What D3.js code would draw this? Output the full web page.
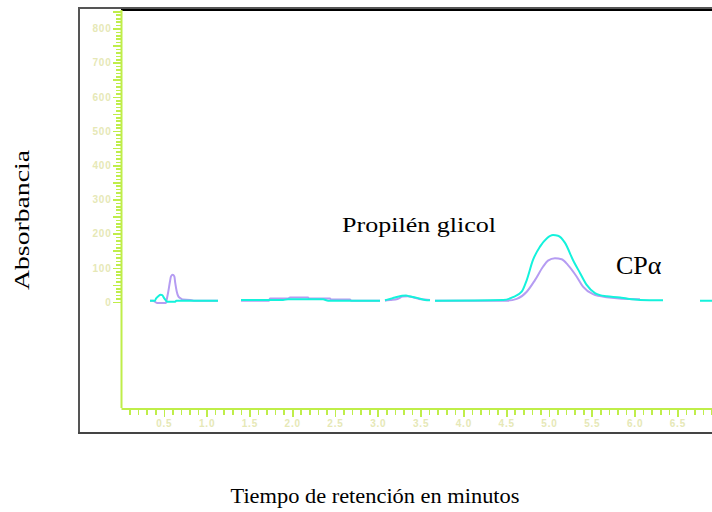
<!DOCTYPE html>
<html>
<head>
<meta charset="utf-8">
<script src="https://cdn.jsdelivr.net/npm/d3@7/dist/d3.min.js"></script>
<style>
  html, body { margin: 0; padding: 0; background: #fff; }
  svg { display: block; }
</style>
</head>
<body>
<svg id="chart" width="712" height="512"></svg>
<script>
// ---- data (time in minutes, absorbance); null value = gap in the trace ----
const cyanTime = [0.339,0.397,0.409,0.436,0.464,0.482,0.502,0.526,0.537,0.634,0.645,1.133,
  1.2,
  1.402,1.893,1.951,2.360,2.420,3.026,
  3.05,
  3.084,3.143,3.201,3.283,3.330,3.364,3.458,3.551,3.610,
  3.64,
  3.668,4.463,4.579,4.681,4.740,4.813,4.895,4.973,5.047,5.105,5.187,5.280,5.362,5.440,5.537,5.596,5.674,5.829,5.908,6.063,6.332,
  6.5,
  6.764,7.0];
const cyanValue = [4,4,10,17,21,20,12,4,1,1,4,4,
  null,
  6,6,8,8,4,4,
  null,
  5,9,13,18,19,17,12,6,5,
  null,
  4,6,14,30,64,123,162,186,196,194,173,123,85,50,26,20,17,13,10,6,5,
  null,
  4,4];

const lavTime = [0.339,0.374,0.421,0.526,0.534,0.553,0.572,0.584,0.604,0.623,0.634,0.651,0.669,0.689,0.721,0.806,0.85,1.133,
  1.2,
  1.402,1.729,1.740,1.951,1.974,2.185,2.195,2.442,2.452,2.675,2.690,3.026,
  3.05,
  3.084,3.143,3.230,3.290,3.350,3.420,3.480,3.551,3.610,
  3.64,
  3.668,4.506,4.623,4.740,4.836,4.930,4.988,5.070,5.148,5.222,5.324,5.397,5.514,5.674,6.025,6.063];
const lavValue = [4,4,-3,-3,7,31,60,75,80,75,55,31,17,12,7,6,4,4,
  null,
  4,4,10,10,13,13,10,10,7,7,4,4,
  null,
  4,6,9,16,17,13,9,7,6,
  null,
  4,4,9,30,64,103,121,128,125,108,74,45,23,14,8,8];

const yMajorTicks = [0,100,200,300,400,500,600,700,800];
const yMidTicks = d3.range(50, 900, 100);
const yMinorTicks = d3.range(0, 860, 10);
const xMajorTicks = [0.5,1.0,1.5,2.0,2.5,3.0,3.5,4.0,4.5,5.0,5.5,6.0,6.5];
const xMinorTicks = d3.range(1, 70).map(d => d / 10);

const title = "Propilén glicol";
const peakLabel = "CPα";
const xTitle = "Tiempo de retención en minutos";
const yTitle = "Absorbancia";

// ---- drawing ----
const svg = d3.select("#chart");
const AX = "#bfee4a";
const LBL = "#e6e8b6";

const x = d3.scaleLinear().domain([0, 7]).range([121, 121 + 7 * 85.6]);
const y = d3.scaleLinear().domain([-310, 854]).range([408, 10]);

// outer frame
const frame = svg.append("g");
frame.append("line").attr("x1", 79).attr("x2", 712).attr("y1", 8).attr("y2", 8)
  .attr("stroke", "#555").attr("stroke-width", 2);
frame.append("line").attr("x1", 121).attr("x2", 712).attr("y1", 10).attr("y2", 10)
  .attr("stroke", "#000").attr("stroke-width", 2);
frame.append("line").attr("x1", 79).attr("x2", 79).attr("y1", 7).attr("y2", 434)
  .attr("stroke", "#555").attr("stroke-width", 2);
frame.append("line").attr("x1", 78).attr("x2", 712).attr("y1", 433).attr("y2", 433)
  .attr("stroke", "#444").attr("stroke-width", 2);

// y axis: minor, then major
const gyMinor = svg.append("g").attr("transform", "translate(121.5,0)")
  .call(d3.axisLeft(y).tickValues(yMinorTicks).tickSize(6).tickSizeOuter(0).tickFormat(""));
const gyMid = svg.append("g").attr("transform", "translate(121.5,0)")
  .call(d3.axisLeft(y).tickValues(yMidTicks).tickSize(9).tickSizeOuter(0).tickFormat(""));
const gy = svg.append("g").attr("transform", "translate(121.5,0)")
  .call(d3.axisLeft(y).tickValues(yMajorTicks).tickSize(9).tickSizeOuter(0).tickPadding(1).tickFormat(d3.format("d")));

// x axis
const gxMinor = svg.append("g").attr("transform", "translate(0,408.5)")
  .call(d3.axisBottom(x).tickValues(xMinorTicks).tickSize(6).tickSizeOuter(0).tickFormat(""));
const gx = svg.append("g").attr("transform", "translate(0,408.5)")
  .call(d3.axisBottom(x).tickValues(xMajorTicks).tickSize(8).tickSizeOuter(0).tickPadding(3).tickFormat(d3.format(".1f")));

svg.selectAll(".domain").attr("stroke", AX).attr("stroke-width", 2);
svg.selectAll(".tick line").attr("stroke", AX).attr("stroke-width", 1.6).attr("shape-rendering", "crispEdges");
svg.selectAll(".tick text").attr("fill", LBL)
  .style("font-family", "'Liberation Sans', Arial, sans-serif")
  .style("font-size", "10px").style("font-weight", "bold").style("letter-spacing", "0.8px");
gy.select(".domain").attr("d", `M0,${y(854)}V${408}`);
[gyMinor, gyMid].forEach(g => g.select(".domain").remove());
gxMinor.select(".domain").remove();

// traces
const line = d3.line()
  .defined(d => d[1] !== null)
  .curve(d3.curveMonotoneX)
  .x(d => x(d[0]))
  .y(d => y(d[1]));

const lavData = lavTime.map((t, i) => [t, lavValue[i]]);
const cyanData = cyanTime.map((t, i) => [t, cyanValue[i]]);

svg.append("path").datum(lavData).attr("d", line)
  .attr("fill", "none").attr("stroke", "#b59cf2").attr("stroke-width", 2);
svg.append("path").datum(cyanData).attr("d", line)
  .attr("fill", "none").attr("stroke", "#14f2dc").attr("stroke-width", 2);

// texts
const serif = "'Liberation Serif', 'Times New Roman', Times, serif";
svg.append("text").text(title)
  .attr("x", 342).attr("y", 232)
  .attr("textLength", 154).attr("lengthAdjust", "spacingAndGlyphs")
  .style("font-family", serif).style("font-size", "22px").attr("fill", "#000");
svg.append("text").text(peakLabel)
  .attr("x", 616).attr("y", 274)
  .style("font-family", serif).style("font-size", "26px").attr("fill", "#000");
svg.append("text").text(xTitle)
  .attr("x", 375).attr("y", 503).attr("text-anchor", "middle")
  .attr("textLength", 289).attr("lengthAdjust", "spacingAndGlyphs")
  .style("font-family", serif).style("font-size", "21px").attr("fill", "#000");
svg.append("text").text(yTitle)
  .attr("transform", "translate(29,220) rotate(-90)").attr("text-anchor", "middle")
  .attr("textLength", 140).attr("lengthAdjust", "spacingAndGlyphs")
  .style("font-family", serif).style("font-size", "21px").attr("fill", "#000");
</script>
</body>
</html>
